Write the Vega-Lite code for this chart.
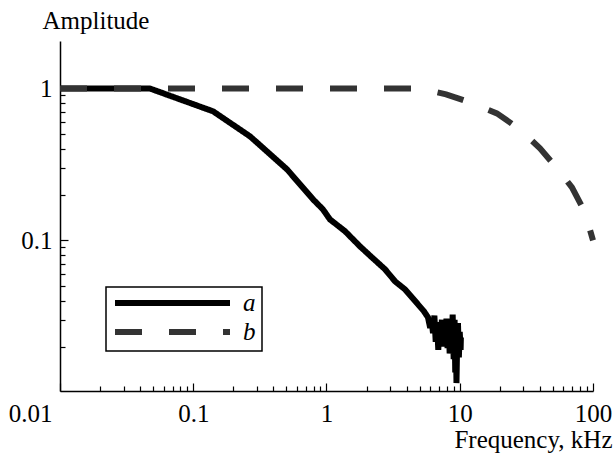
{
  "$schema": "https://vega.github.io/schema/vega-lite/v6.json",
  "width": 533,
  "height": 350,
  "autosize": {"type": "none"},
  "padding": {"left": 60, "top": 41, "right": 23, "bottom": 66},
  "background": "white",
  "config": {
    "view": {"stroke": null},
    "font": "Liberation Serif, Times New Roman, DejaVu Serif, serif",
    "axis": {"domainColor": "black", "domainWidth": 1.5, "tickColor": "black", "tickWidth": 1.2, "labelColor": "black", "labelFont": "Liberation Serif, Times New Roman, DejaVu Serif, serif", "labelFontSize": 25, "titleFont": "Liberation Serif, Times New Roman, DejaVu Serif, serif", "titleFontSize": 25, "titleFontWeight": "normal", "titleColor": "black", "grid": false}
  },
  "data": {
    "values": [
      {"series": "a", "f": 0.01, "amp": 1},
      {"series": "a", "f": 0.047, "amp": 1},
      {"series": "a", "f": 0.141, "amp": 0.706},
      {"series": "a", "f": 0.267, "amp": 0.483},
      {"series": "a", "f": 0.506, "amp": 0.293},
      {"series": "a", "f": 0.793, "amp": 0.186},
      {"series": "a", "f": 0.94, "amp": 0.16},
      {"series": "a", "f": 1.06, "amp": 0.1375},
      {"series": "a", "f": 1.38, "amp": 0.1146},
      {"series": "a", "f": 1.78, "amp": 0.0914},
      {"series": "a", "f": 2.19, "amp": 0.0773},
      {"series": "a", "f": 2.75, "amp": 0.0645},
      {"series": "a", "f": 3.27, "amp": 0.0537},
      {"series": "a", "f": 3.88, "amp": 0.0476},
      {"series": "a", "f": 4.38, "amp": 0.0421},
      {"series": "a", "f": 4.86, "amp": 0.0379},
      {"series": "a", "f": 5.39, "amp": 0.0341},
      {"series": "a", "f": 5.78, "amp": 0.0311},
      {"series": "a", "f": 6.0, "amp": 0.0265},
      {"series": "a", "f": 6.15, "amp": 0.03},
      {"series": "a", "f": 6.3, "amp": 0.0245},
      {"series": "a", "f": 6.45, "amp": 0.032},
      {"series": "a", "f": 6.6, "amp": 0.0215},
      {"series": "a", "f": 6.75, "amp": 0.029},
      {"series": "a", "f": 6.9, "amp": 0.019},
      {"series": "a", "f": 7.05, "amp": 0.028},
      {"series": "a", "f": 7.2, "amp": 0.0235},
      {"series": "a", "f": 7.35, "amp": 0.03},
      {"series": "a", "f": 7.5, "amp": 0.02},
      {"series": "a", "f": 7.65, "amp": 0.0285},
      {"series": "a", "f": 7.8, "amp": 0.0225},
      {"series": "a", "f": 7.95, "amp": 0.0305},
      {"series": "a", "f": 8.1, "amp": 0.0195},
      {"series": "a", "f": 8.25, "amp": 0.029},
      {"series": "a", "f": 8.4, "amp": 0.018},
      {"series": "a", "f": 8.55, "amp": 0.027},
      {"series": "a", "f": 8.7, "amp": 0.021},
      {"series": "a", "f": 8.85, "amp": 0.0325},
      {"series": "a", "f": 9.0, "amp": 0.0165},
      {"series": "a", "f": 9.15, "amp": 0.03},
      {"series": "a", "f": 9.25, "amp": 0.0135},
      {"series": "a", "f": 9.35, "amp": 0.024},
      {"series": "a", "f": 9.45, "amp": 0.0115},
      {"series": "a", "f": 9.55, "amp": 0.02},
      {"series": "a", "f": 9.7, "amp": 0.0285},
      {"series": "a", "f": 9.85, "amp": 0.017},
      {"series": "a", "f": 10.0, "amp": 0.025},
      {"series": "a", "f": 10.15, "amp": 0.019},
      {"series": "a", "f": 10.2, "amp": 0.023},
      {"series": "b", "f": 0.01, "amp": 1},
      {"series": "b", "f": 5.0, "amp": 1},
      {"series": "b", "f": 7.9, "amp": 0.913},
      {"series": "b", "f": 11.9, "amp": 0.809},
      {"series": "b", "f": 19, "amp": 0.685},
      {"series": "b", "f": 28.3, "amp": 0.537},
      {"series": "b", "f": 40, "amp": 0.403},
      {"series": "b", "f": 54.6, "amp": 0.293},
      {"series": "b", "f": 69.5, "amp": 0.223},
      {"series": "b", "f": 87, "amp": 0.153},
      {"series": "b", "f": 100, "amp": 0.1}
    ]
  },
  "mark": {"type": "line", "strokeWidth": 6, "clip": false},
  "encoding": {
    "x": {
      "field": "f", "type": "quantitative",
      "scale": {"type": "log", "domain": [0.01, 100], "nice": false},
      "axis": {
        "title": "Frequency, kHz",
        "titleAlign": "right", "titleBaseline": "alphabetic", "titleX": 552, "titleY": 56,
        "values": [0.01,0.02,0.03,0.04,0.05,0.06,0.07,0.08,0.09,0.1,0.2,0.3,0.4,0.5,0.6,0.7,0.8,0.9,1,2,3,4,5,6,7,8,9,10,20,30,40,50,60,70,80,90,100],
        "labelExpr": "datum.value == 0.01 ? '0.01' : datum.value == 0.1 ? '0.1' : datum.value == 1 ? '1' : datum.value == 10 ? '10' : datum.value == 100 ? '100' : ''",
        "labelFlush": false,
        "labelOverlap": false,
        "labelAlign": {"condition": {"test": "datum.value < 0.011", "value": "right"}, "value": "center"},
        "labelOffset": {"condition": {"test": "datum.value < 0.011", "value": -8}, "value": 0},
        "tickSize": {"condition": {"test": "indexof([0.01,0.1,1,10,100], datum.value) >= 0", "value": -8}, "value": -5},
        "labelPadding": {"condition": {"test": "indexof([0.01,0.1,1,10,100], datum.value) >= 0", "value": 18}, "value": 15}
      }
    },
    "y": {
      "field": "amp", "type": "quantitative",
      "scale": {"type": "log", "domain": [0.0102, 2.05], "nice": false},
      "axis": {
        "title": "Amplitude",
        "titleAngle": 0, "titleAlign": "left", "titleBaseline": "alphabetic", "titleX": -18, "titleY": -13,
        "values": [0.02,0.03,0.04,0.05,0.06,0.07,0.08,0.09,0.1,0.2,0.3,0.4,0.5,0.6,0.7,0.8,0.9,1],
        "labelExpr": "datum.value == 0.1 ? '0.1' : datum.value == 1 ? '1' : ''",
        "labelFlush": false,
        "labelOverlap": false,
        "tickSize": {"condition": {"test": "indexof([0.1,1], datum.value) >= 0", "value": -8}, "value": -5},
        "labelPadding": {"condition": {"test": "indexof([0.1,1], datum.value) >= 0", "value": 16}, "value": 13}
      }
    },
    "color": {
      "field": "series", "type": "nominal",
      "scale": {"domain": ["a", "b"], "range": ["black", "#333333"]},
      "legend": {
        "title": null, "orient": "none", "legendX": 46, "legendY": 246,
        "strokeColor": "black", "padding": 6,
        "symbolType": "stroke", "symbolSize": 13225, "symbolStrokeWidth": 6,
        "clipHeight": 20, "rowPadding": 4, "labelOffset": 10,
        "labelFont": "Liberation Serif, Times New Roman, DejaVu Serif, serif", "labelFontStyle": "italic", "labelFontSize": 25, "labelColor": "black",
        "encode": {"legend": {"update": {"strokeWidth": {"value": 1.5}}}}
      }
    },
    "strokeDash": {
      "field": "series", "type": "nominal",
      "scale": {"domain": ["a", "b"], "range": [[1, 0], [27, 27]]},
      "legend": {
        "title": null, "orient": "none", "legendX": 46, "legendY": 246,
        "strokeColor": "black", "padding": 6,
        "symbolType": "stroke", "symbolSize": 13225, "symbolStrokeWidth": 6,
        "clipHeight": 20, "rowPadding": 4, "labelOffset": 10,
        "labelFont": "Liberation Serif, Times New Roman, DejaVu Serif, serif", "labelFontStyle": "italic", "labelFontSize": 25, "labelColor": "black",
        "encode": {"legend": {"update": {"strokeWidth": {"value": 1.5}}}}
      }
    }
  }
}
